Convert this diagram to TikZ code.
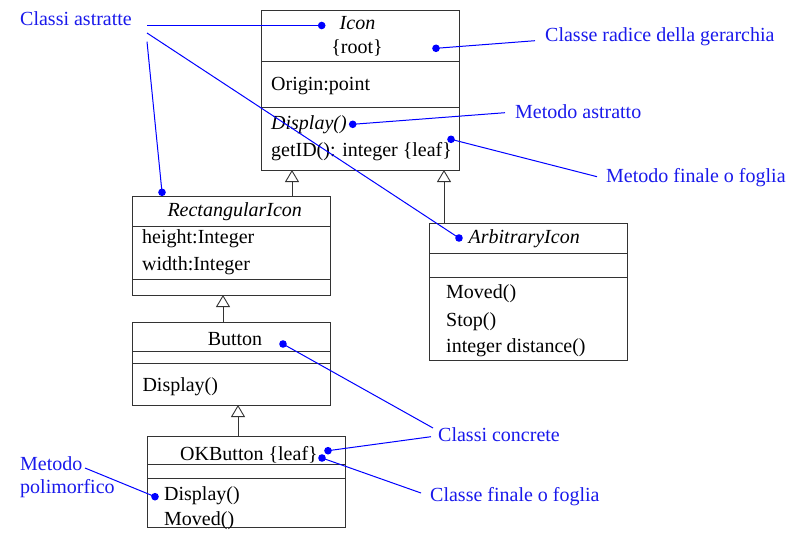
\documentclass[tikz,border=0pt]{standalone}
\usepackage{fontspec}
\setmainfont{Liberation Serif}
\usetikzlibrary{arrows.meta}
\definecolor{noteblue}{RGB}{25,25,235}
\tikzset{
  box/.style={draw=black!80, line width=0.9pt, anchor=north west, inner sep=0pt, outer sep=0pt},
  div/.style={draw=black!80, line width=0.9pt},
  txt/.style={anchor=base west, inner sep=0pt, font=\fontsize{20}{24}\selectfont},
  ttl/.style={anchor=base, inner sep=0pt, font=\fontsize{20}{24}\selectfont},
  note/.style={txt, text=noteblue},
  inherit/.style={draw=black!80, line width=0.9pt, -{Triangle[open, length=12pt, width=14pt]}},
  callout/.style={blue, line width=1pt},
}
\begin{document}
\begin{tikzpicture}[x=1pt, y=-1pt]
\useasboundingbox (0,0) rectangle (797,535);

% class boxes
\node[box, minimum width=198pt, minimum height=160pt] (icon) at (261,10) {};
\node[box, minimum width=198pt, minimum height=99pt] (rect) at (132,196) {};
\node[box, minimum width=198pt, minimum height=83pt] (button) at (132,322) {};
\node[box, minimum width=198pt, minimum height=91pt] (okb) at (147,436) {};
\node[box, minimum width=198pt, minimum height=137pt] (arb) at (429,223) {};

\draw[div] (icon.west |- 0,61) -- (icon.east |- 0,61);
\draw[div] (icon.west |- 0,107) -- (icon.east |- 0,107);
\draw[div] (rect.west |- 0,226) -- (rect.east |- 0,226);
\draw[div] (rect.west |- 0,279) -- (rect.east |- 0,279);
\draw[div] (button.west |- 0,351) -- (button.east |- 0,351);
\draw[div] (button.west |- 0,363) -- (button.east |- 0,363);
\draw[div] (okb.west |- 0,464) -- (okb.east |- 0,464);
\draw[div] (okb.west |- 0,478) -- (okb.east |- 0,478);
\draw[div] (arb.west |- 0,253) -- (arb.east |- 0,253);
\draw[div] (arb.west |- 0,277) -- (arb.east |- 0,277);

% generalizations
\draw[inherit] (rect.north -| 292,0) -- (icon.south -| 292,0);
\draw[inherit] (arb.north -| 444,0) -- (icon.south -| 444,0);
\draw[inherit] (button.north -| 223,0) -- (rect.south -| 223,0);
\draw[inherit] (okb.north -| 238,0) -- (button.south -| 238,0);

% class contents
\node[ttl] (iconname) at (357.5,29.3) {\itshape Icon};
\node[ttl] (iconroot) at (357,53.3) {\{root\}};
\node[txt] (origin) at (271,90) {Origin:point};
\node[txt] (display1) at (271,129.3) {\itshape Display()};
\node[txt] (getid) at (271,156) {getID(): integer \{leaf\}};

\node[ttl] (rectname) at (234.7,216) {\itshape RectangularIcon};
\node[txt] (height) at (142,243.3) {height:Integer};
\node[txt] (width) at (142,270) {width:Integer};

\node[ttl] (arbname) at (524.2,243.3) {\itshape ArbitraryIcon};
\node[txt] (moved1) at (446,298.3) {Moved()};
\node[txt] (stop) at (446,326.7) {Stop()};
\node[txt] (distance) at (446,352.7) {integer distance()};

\node[ttl] (buttonname) at (235,345.7) {Button};
\node[txt] (display2) at (142.3,391.7) {Display()};

\node[ttl] (okbname) at (249,460) {OKButton \{leaf\}};
\node[txt] (display3) at (164,500.7) {Display()};
\node[txt] (moved2) at (164,525) {Moved()};

% notes
\node[note] (abstr) at (20,26) {Classi astratte};
\node[note] (radice) at (545,41.7) {Classe radice della gerarchia};
\node[note] (mabstr) at (515,118.3) {Metodo astratto};
\node[note] (mfinal) at (606,182.7) {Metodo finale o foglia};
\node[note] (concr) at (438,441.7) {Classi concrete};
\node[note] (cfinal) at (430,501.7) {Classe finale o foglia};
\node[note] (poli1) at (20,470.7) {Metodo};
\node[note] (poli2) at (20,493.3) {polimorfico};

% callout ends
\coordinate (a1) at (147,25.5);
\coordinate (a2) at (147,33);
\coordinate (a3) at (147,41.7);
\coordinate (dIcon) at (321.7,25.5);
\coordinate (dArb) at (459,238);
\coordinate (dRect) at (162,192.3);
\coordinate (r1) at (535,40.7);
\coordinate (dRoot) at (436,48.3);
\coordinate (m1) at (505,112.7);
\coordinate (dDisp) at (352.7,124.3);
\coordinate (f1) at (597,176.7);
\coordinate (dLeaf) at (451,139.3);
\coordinate (c1) at (433,428);
\coordinate (c2) at (431,436.7);
\coordinate (dButton) at (283,344);
\coordinate (dOkb) at (328,450.7);
\coordinate (g1) at (421,493);
\coordinate (dOkleaf) at (322,458);
\coordinate (p1) at (85,468);
\coordinate (dPoli) at (155,496.7);

\draw[callout] (a1) -- (dIcon);
\draw[callout] (a2) -- (dArb);
\draw[callout] (a3) -- (dRect);
\draw[callout] (r1) -- (dRoot);
\draw[callout] (m1) -- (dDisp);
\draw[callout] (f1) -- (dLeaf);
\draw[callout] (c1) -- (dButton);
\draw[callout] (c2) -- (dOkb);
\draw[callout] (g1) -- (dOkleaf);
\draw[callout] (p1) -- (dPoli);
\foreach \d in {dIcon,dArb,dRect,dRoot,dDisp,dLeaf,dButton,dOkb,dOkleaf,dPoli}
  \fill[blue] (\d) circle (3.8pt);
\end{tikzpicture}
\end{document}
